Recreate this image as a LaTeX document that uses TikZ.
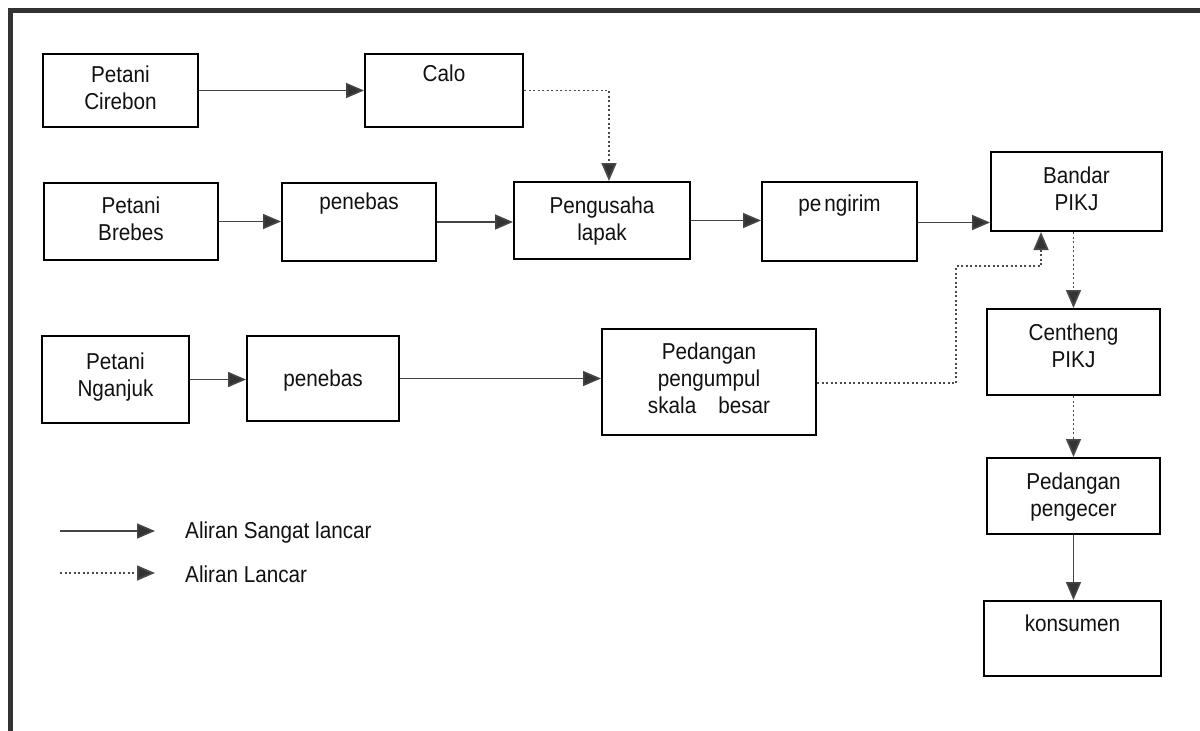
\documentclass[tikz,border=0pt]{standalone}
\usepackage{fontspec}
\setmainfont{Liberation Sans}[FakeStretch=0.9]
\usepackage{xcolor}
\usepackage{tikz}
\usetikzlibrary{arrows.meta,positioning,calc}
\definecolor{ink}{HTML}{111111}
\definecolor{framegray}{HTML}{333333}
\definecolor{flowgray}{HTML}{444444}
\definecolor{headgray}{HTML}{333333}
\definecolor{dotgray}{HTML}{4A4A4A}
\newcommand{\boxfont}{\fontsize{23}{27}\selectfont}
\tikzset{
  box/.style={draw=black,line width=2pt,inner sep=0pt,anchor=north west},
  lbl/.style={font=\boxfont,text=ink,align=center,inner sep=0pt,anchor=north},
  flow/.style={-{Triangle[length=18pt,width=15pt,fill=headgray]},line width=1.6pt,flowgray},
  flowdot/.style={-{Triangle[length=18pt,width=15pt,fill=headgray]},line width=1.7pt,dotgray,
                  dash pattern=on 2pt off 2.5pt},
}
\begin{document}
\begin{tikzpicture}[x=1pt,y=-1pt]
  \useasboundingbox (0,0) rectangle (1200,731);
  \fill[white] (0,0) rectangle (1200,731);
  % frame
  \draw[line width=5pt,framegray] (1200,10.5) -- (10.5,10.5) -- (10.5,731);

  % row 1
  \node[box,minimum width=155pt,minimum height=73pt](cirebon)at(42,53){};
  \node[lbl](cirebon-t)at([yshift=-13pt]cirebon.north){Petani\\Cirebon};
  \node[box,minimum width=158pt,minimum height=73pt](calo)at(364,53){};
  \node[lbl](calo-t)at([yshift=-12pt]calo.north){Calo};

  % row 2
  \node[box,minimum width=174pt,minimum height=77pt](brebes)at(43,182){};
  \node[lbl](brebes-t)at([yshift=-15pt]brebes.north){Petani\\Brebes};
  \node[box,minimum width=154pt,minimum height=78pt](tebas1)at(281,182){};
  \node[lbl](tebas1-t)at([yshift=-11pt]tebas1.north){penebas};
  \node[box,minimum width=176pt,minimum height=77pt](lapak)at(513,181){};
  \node[lbl](lapak-t)at([yshift=-16pt]lapak.north){Pengusaha\\lapak};
  \node[box,minimum width=155pt,minimum height=79pt](kirim)at(761,181){};
  \node[lbl](kirim-t)at([yshift=-14pt]kirim.north){pe\hspace{3pt}ngirim};

  % row 3
  \node[box,minimum width=147pt,minimum height=87pt](nganjuk)at(41,335){};
  \node[lbl](nganjuk-t)at([yshift=-18pt]nganjuk.north){Petani\\Nganjuk};
  \node[box,minimum width=152pt,minimum height=85pt](tebas2)at(246,335){};
  \node[lbl](tebas2-t)at([yshift=-35pt]tebas2.north){penebas};
  \node[box,minimum width=214pt,minimum height=106pt](pengumpul)at(601,328){};
  \node[lbl](pengumpul-t)at([yshift=-15pt]pengumpul.north){Pedangan\\pengumpul\\skala\hspace{22pt}besar};

  % right column
  \node[box,minimum width=171pt,minimum height=79pt](bandar)at(990,151){};
  \node[lbl](bandar-t)at([yshift=-16pt]bandar.north){Bandar\\PIKJ};
  \node[box,minimum width=173pt,minimum height=86pt](centheng)at(986,308){};
  \node[lbl](centheng-t)at([yshift=-16pt]centheng.north){Centheng\\PIKJ};
  \node[box,minimum width=173pt,minimum height=76pt](ecer)at(986,457){};
  \node[lbl](ecer-t)at([yshift=-16pt]ecer.north){Pedangan\\pengecer};
  \node[box,minimum width=177pt,minimum height=75pt](konsumen)at(983,600){};
  \node[lbl](konsumen-t)at([yshift=-15pt]konsumen.north){konsumen};

  % flows
  \draw[flow](cirebon.east)--(calo.west);
  \draw[flowdot](calo.east)-|([xshift=7pt]lapak.north);
  \draw[flow](brebes.east)--(brebes.east-|tebas1.west);
  \draw[flow](tebas1.east)--(tebas1.east-|lapak.west);
  \draw[flow](lapak.east)--(lapak.east-|kirim.west);
  \draw[flow]([yshift=-1pt]kirim.east)--([yshift=-1pt]kirim.east-|bandar.west);
  \draw[flow](nganjuk.east)--(nganjuk.east-|tebas2.west);
  \draw[flow](tebas2.east)--(tebas2.east-|pengumpul.west);
  \coordinate(bend)at(956,266);
  \draw[flowdot]([yshift=-1pt]pengumpul.east)-|(bend)-|([xshift=-35.5pt]bandar.south);
  \draw[flowdot](bandar.south-|centheng.north)--(centheng.north);
  \draw[flowdot](centheng.south)--(ecer.north);
  \draw[flow](ecer.south)--(ecer.south|-konsumen.north);

  % legend
  \coordinate(leg1a)at(60,531);
  \coordinate(leg1b)at(155,531);
  \coordinate(leg2a)at(60,573);
  \coordinate(leg2b)at(155,573);
  \draw[flow](leg1a)--(leg1b);
  \draw[flowdot](leg2a)--(leg2b);
  \node[font=\boxfont,text=ink,inner sep=0pt,anchor=base west](leg1)at(185,538){Aliran Sangat lancar};
  \node[font=\boxfont,text=ink,inner sep=0pt,anchor=base west](leg2)at(185,582){Aliran Lancar};
\end{tikzpicture}
\end{document}
